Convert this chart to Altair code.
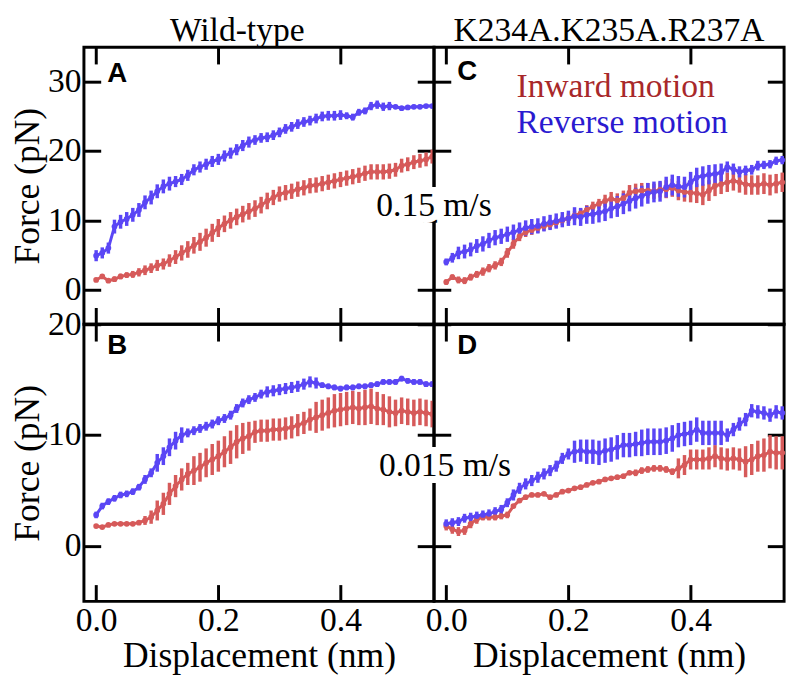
import altair as alt
import pandas as pd

DISP = [0.00, 0.01, 0.02, 0.03, 0.04, 0.05, 0.06, 0.07, 0.08, 0.09,
        0.10, 0.11, 0.12, 0.13, 0.14, 0.15, 0.16, 0.17, 0.18, 0.19,
        0.20, 0.21, 0.22, 0.23, 0.24, 0.25, 0.26, 0.27, 0.28, 0.29,
        0.30, 0.31, 0.32, 0.33, 0.34, 0.35, 0.36, 0.37, 0.38, 0.39,
        0.40, 0.41, 0.42, 0.43, 0.44, 0.45, 0.46, 0.47, 0.48, 0.49,
        0.50, 0.51, 0.52, 0.53, 0.54, 0.55]

# Panel A: wild-type, 0.15 m/s
A_INW = [1.4, 1.9, 1.3, 1.5, 1.9, 2.1, 2.2, 2.5, 2.8, 3.1,
         3.5, 3.7, 4.2, 4.7, 5.3, 5.8, 6.4, 6.9, 7.5, 8.2,
         8.9, 9.5, 10.0, 10.5, 10.9, 11.3, 11.7, 12.2, 12.8, 13.3,
         13.8, 14.0, 14.2, 14.5, 14.7, 15.0, 15.1, 15.3, 15.5, 15.7,
         15.9, 16.1, 16.3, 16.5, 16.8, 17.0, 17.0, 17.0, 17.1, 17.3,
         17.9, 18.1, 18.4, 18.6, 18.8, 19.2]
A_INW_ERR = [0.3, 0.3, 0.3, 0.4, 0.4, 0.4, 0.5, 0.6, 0.7, 0.7,
             0.8, 0.8, 0.9, 1.0, 1.1, 1.2, 1.2, 1.3, 1.3, 1.3,
             1.3, 1.2, 1.2, 1.2, 1.2, 1.2, 1.2, 1.2, 1.2, 1.1,
             1.1, 1.1, 1.1, 1.1, 1.1, 1.1, 1.1, 1.1, 1.1, 1.1,
             1.1, 1.1, 1.1, 1.1, 1.1, 1.1, 1.1, 1.1, 1.1, 1.0,
             1.0, 1.0, 1.0, 1.0, 1.0, 1.0]
A_REV = [4.9, 5.3, 6.0, 9.1, 9.8, 10.2, 10.8, 11.5, 12.6, 13.3,
         14.2, 14.9, 15.3, 15.6, 15.9, 16.5, 17.3, 17.7, 18.1, 18.5,
         18.8, 19.3, 19.7, 20.2, 20.8, 21.3, 21.6, 21.9, 22.0, 22.3,
         22.7, 23.2, 23.5, 23.9, 24.2, 24.4, 24.7, 25.0, 25.1, 25.1,
         25.2, 25.1, 24.9, 25.6, 25.8, 26.5, 26.7, 26.4, 26.5, 26.4,
         26.2, 26.3, 26.4, 26.4, 26.5, 26.5]
A_REV_ERR = [0.8, 0.8, 0.8, 1.0, 1.0, 1.0, 1.0, 1.0, 1.0, 1.0,
             1.0, 1.0, 1.0, 0.8, 0.8, 0.8, 0.8, 0.8, 0.8, 0.8,
             0.8, 0.8, 0.8, 0.8, 0.8, 0.8, 0.7, 0.7, 0.7, 0.7,
             0.7, 0.7, 0.7, 0.7, 0.7, 0.7, 0.7, 0.7, 0.7, 0.7,
             0.7, 0.5, 0.5, 0.5, 0.5, 0.6, 0.6, 0.6, 0.6, 0.3,
             0.3, 0.3, 0.3, 0.3, 0.3, 0.3]

# Panel B: wild-type, 0.015 m/s
B_INW = [1.8, 1.7, 1.9, 2.0, 2.0, 2.0, 2.0, 2.1, 2.3, 2.6,
         3.2, 3.8, 4.7, 5.4, 6.0, 6.5, 6.8, 7.1, 7.5, 7.8,
         8.1, 8.5, 8.9, 9.4, 9.7, 9.9, 10.3, 10.4, 10.4, 10.5,
         10.5, 10.6, 10.7, 10.9, 11.1, 11.4, 11.6, 11.8, 12.0, 12.2,
         12.3, 12.4, 12.5, 12.4, 12.5, 12.6, 12.4, 12.3, 12.1, 12.0,
         12.2, 12.1, 12.0, 12.1, 12.0, 11.9]
B_INW_ERR = [0.15, 0.15, 0.15, 0.15, 0.15, 0.15, 0.15, 0.15, 0.4, 0.6,
             0.9, 1.0, 1.0, 1.0, 1.0, 1.0, 1.3, 1.3, 1.3, 1.4,
             1.4, 1.4, 1.5, 1.5, 1.4, 1.3, 1.0, 1.0, 1.0, 1.0,
             1.0, 1.0, 1.0, 1.0, 1.0, 1.0, 1.4, 1.4, 1.4, 1.5,
             1.5, 1.5, 1.5, 1.5, 1.6, 1.6, 1.5, 1.4, 1.4, 1.2,
             1.2, 1.2, 1.2, 1.2, 1.2, 1.2]
B_REV = [2.8, 3.6, 4.0, 4.3, 4.6, 4.7, 4.9, 5.3, 6.0, 6.6,
         7.5, 8.1, 8.9, 9.5, 10.0, 10.2, 10.4, 10.6, 10.8, 11.0,
         11.3, 11.5, 11.8, 12.4, 12.9, 13.2, 13.4, 13.7, 13.9, 14.0,
         14.1, 14.2, 14.3, 14.4, 14.6, 14.8, 14.7, 14.5, 14.4, 14.3,
         14.2, 14.3, 14.3, 14.4, 14.4, 14.5, 14.6, 14.8, 14.8, 14.8,
         15.1, 14.9, 14.8, 14.8, 14.6, 14.6]
B_REV_ERR = [0.3, 0.3, 0.3, 0.3, 0.3, 0.3, 0.3, 0.3, 0.4, 0.4,
             0.8, 0.8, 0.8, 0.8, 0.7, 0.4, 0.4, 0.4, 0.4, 0.4,
             0.4, 0.4, 0.4, 0.4, 0.4, 0.4, 0.4, 0.4, 0.5, 0.5,
             0.5, 0.5, 0.5, 0.5, 0.5, 0.5, 0.5, 0.25, 0.25, 0.25,
             0.25, 0.25, 0.25, 0.25, 0.25, 0.25, 0.25, 0.25, 0.25, 0.25,
             0.25, 0.25, 0.25, 0.25, 0.25, 0.25]

# Panel C: K234A.K235A.R237A, 0.15 m/s
C_INW = [1.1, 1.8, 1.4, 1.3, 1.8, 2.2, 2.6, 3.1, 3.5, 4.0,
         5.3, 6.6, 7.7, 8.3, 8.6, 8.9, 9.2, 9.4, 9.7, 10.0,
         10.3, 10.7, 11.0, 11.5, 12.0, 12.4, 12.8, 13.1, 12.9, 13.2,
         14.0, 14.2, 14.3, 14.3, 14.2, 14.4, 14.5, 14.7, 14.3, 14.1,
         14.0, 13.9, 13.7, 14.3, 15.0, 15.2, 15.5, 15.7, 15.5, 15.2,
         15.1, 15.1, 15.3, 15.1, 15.3, 15.5]
C_INW_ERR = [0.4, 0.4, 0.5, 0.5, 0.5, 0.5, 0.6, 0.6, 0.6, 0.6,
             0.7, 0.7, 0.7, 0.7, 0.7, 0.7, 0.7, 0.7, 0.7, 0.7,
             0.7, 0.7, 0.7, 0.7, 0.7, 0.7, 0.9, 1.0, 1.0, 1.1,
             1.1, 1.1, 1.1, 1.1, 1.1, 1.1, 1.3, 1.3, 1.4, 1.4,
             1.4, 1.4, 1.5, 1.5, 1.5, 1.4, 1.4, 1.4, 1.5, 1.5,
             1.4, 1.4, 1.5, 1.5, 1.4, 1.4]
C_REV = [4.0, 4.6, 5.3, 5.5, 5.8, 6.3, 6.6, 7.1, 7.5, 7.7,
         8.0, 8.3, 8.6, 8.9, 9.1, 9.2, 9.5, 9.7, 9.9, 10.1,
         10.3, 10.6, 10.5, 10.8, 10.9, 11.1, 11.3, 11.7, 12.0, 12.4,
         12.8, 13.2, 13.5, 13.9, 14.1, 14.2, 14.8, 15.1, 14.9, 14.8,
         15.5, 16.2, 16.4, 16.6, 16.7, 16.9, 17.7, 17.4, 17.0, 17.2,
         17.3, 17.9, 18.0, 18.1, 18.6, 18.7]
C_REV_ERR = [0.5, 0.7, 0.9, 1.0, 1.0, 1.0, 1.1, 1.1, 1.1, 1.1,
             1.1, 1.1, 1.1, 1.1, 1.1, 1.1, 1.1, 1.1, 1.1, 1.1,
             1.1, 1.3, 1.3, 1.3, 1.4, 1.4, 1.4, 1.4, 1.5, 1.5,
             1.5, 1.5, 1.5, 1.5, 1.5, 1.5, 1.5, 1.5, 1.5, 1.5,
             1.5, 1.4, 1.4, 1.4, 1.4, 1.3, 0.8, 0.8, 0.8, 0.7,
             0.7, 0.7, 0.6, 0.6, 0.6, 0.6]

# Panel D: K234A.K235A.R237A, 0.015 m/s
D_INW = [1.8, 1.5, 1.3, 1.4, 2.0, 2.4, 2.6, 2.6, 2.6, 2.7,
         2.8, 3.6, 4.1, 4.4, 4.6, 4.6, 4.7, 4.4, 4.6, 4.9,
         5.0, 5.2, 5.3, 5.5, 5.7, 5.8, 6.0, 6.1, 6.2, 6.3,
         6.6, 6.6, 6.8, 6.9, 7.0, 7.0, 6.9, 6.7, 7.0, 7.3,
         7.8, 7.8, 7.8, 7.9, 8.1, 7.9, 7.8, 7.9, 7.8, 7.6,
         7.8, 8.1, 8.2, 8.5, 8.4, 8.4]
D_INW_ERR = [0.4, 0.4, 0.4, 0.4, 0.4, 0.4, 0.3, 0.3, 0.3, 0.3,
             0.3, 0.15, 0.15, 0.15, 0.15, 0.15, 0.15, 0.15, 0.15, 0.15,
             0.15, 0.15, 0.15, 0.15, 0.15, 0.15, 0.15, 0.15, 0.15, 0.15,
             0.15, 0.3, 0.3, 0.3, 0.3, 0.3, 0.3, 0.3, 0.9, 0.9,
             0.9, 0.9, 0.9, 1.0, 1.0, 1.0, 1.0, 1.0, 1.0, 1.4,
             1.4, 1.4, 1.5, 1.5, 1.5, 1.5]
D_REV = [2.0, 2.1, 2.2, 2.5, 2.6, 2.7, 2.8, 2.9, 3.1, 3.3,
         3.9, 4.6, 5.2, 5.6, 5.9, 6.2, 6.5, 6.8, 7.2, 7.9,
         8.3, 8.5, 8.6, 8.5, 8.5, 8.4, 8.6, 8.7, 8.9, 9.1,
         9.1, 9.2, 9.3, 9.4, 9.4, 9.4, 9.5, 9.7, 10.0, 10.1,
         10.2, 10.5, 10.2, 10.2, 10.2, 10.2, 10.0, 10.5, 11.0, 11.4,
         12.2, 12.1, 12.0, 11.8, 12.1, 12.0]
D_REV_ERR = [0.4, 0.4, 0.4, 0.4, 0.4, 0.4, 0.4, 0.4, 0.4, 0.4,
             0.4, 0.5, 0.5, 0.5, 0.5, 0.5, 0.5, 0.5, 0.5, 0.5,
             0.5, 1.0, 1.0, 1.1, 1.1, 1.1, 1.1, 1.1, 1.1, 1.1,
             1.1, 1.1, 1.2, 1.2, 1.2, 1.2, 1.2, 1.2, 1.1, 1.1,
             1.1, 1.1, 1.1, 1.1, 1.1, 1.1, 0.6, 0.6, 0.6, 0.6,
             0.6, 0.6, 0.6, 0.6, 0.6, 0.6]

SERIES = ["Inward motion", "Reverse motion"]
COLORS = ["#d65a5a", "#5a46f5"]
LEGEND_COLORS = ["#a8282a", "#2a1ad0"]
COL_TITLES = ["Wild-type", "K234A.K235A.R237A"]
SPEEDS = ["0.15 m/s", "0.015 m/s"]
LETTERS = ["A", "B", "C", "D"]

X_DOMAIN = [-0.02, 0.553]
TOP_DOMAIN = [-5, 35]
BOT_DOMAIN = [-5, 20]
X_TICKS = [0.0, 0.2, 0.4]
TOP_TICKS = [0, 10, 20, 30]
BOT_TICKS = [0, 10, 20]

SERIF = "Times New Roman, Liberation Serif, Times, serif"
SANS = "Liberation Sans, Arial, sans-serif"
TICK = 17
W = 355
H = 281


def frame(inw, inw_err, rev, rev_err):
    rows = []
    for name, ys, es in ((SERIES[0], inw, inw_err), (SERIES[1], rev, rev_err)):
        for x, y, e in zip(DISP, ys, es):
            rows.append({"x": x, "y": y, "lo": y - e, "hi": y + e, "series": name})
    return pd.DataFrame(rows)


def ax(orient, values, labels, fmt):
    return alt.Axis(orient=orient, values=values, labels=labels, format=fmt,
                    domain=False, grid=False, ticks=True, tickSize=TICK,
                    tickWidth=3, tickColor="black", offset=-TICK,
                    labelFont=SERIF, labelFontSize=34, labelColor="black",
                    labelPadding=3, labelFlush=False, labelOverlap=False,
                    titleFont=SERIF, titleFontSize=36, titleColor="black",
                    titleFontWeight="normal", titlePadding=1)


def panel(df, ydom, yticks, left_labels, bottom_labels, letter, letter_y,
          title_text=None, title_dx=0, extras=()):
    xs = alt.Scale(domain=X_DOMAIN, nice=False, zero=False)
    ys = alt.Scale(domain=ydom, nice=False, zero=False)
    col = alt.Color("series:N", scale=alt.Scale(domain=SERIES, range=COLORS), legend=None)
    base = alt.Chart(df)
    err = base.mark_rule(strokeWidth=3.5).encode(
        x=alt.X("x:Q", scale=xs, axis=ax("bottom", X_TICKS, bottom_labels, ".1f"),
                title="Displacement (nm)" if bottom_labels else None),
        y=alt.Y("lo:Q", scale=ys, axis=ax("left", yticks, left_labels, "d"),
                title="Force (pN)" if left_labels else None),
        y2="hi:Q",
        color=col,
    )
    line = base.mark_line(strokeWidth=3).encode(
        x=alt.X("x:Q", scale=xs, axis=None),
        y=alt.Y("y:Q", scale=ys, axis=None),
        color=col,
    )
    pts = base.mark_circle(size=34, opacity=1).encode(
        x=alt.X("x:Q", scale=xs, axis=ax("top", X_TICKS, False, ".1f"), title=None),
        y=alt.Y("y:Q", scale=ys, axis=ax("right", yticks, False, "d"), title=None),
        color=col,
    )
    let = alt.Chart(pd.DataFrame({"x": [0.018], "y": [letter_y], "t": [letter]})).mark_text(
        font=SANS, fontWeight="bold", fontSize=28, align="left", baseline="alphabetic",
        color="black").encode(
        x=alt.X("x:Q", scale=xs, axis=None),
        y=alt.Y("y:Q", scale=ys, axis=None),
        text="t:N",
    )
    layers = [err, line, pts, let]
    for ex in extras:
        layers.append(ex(xs, ys))
    ch = alt.layer(*layers).resolve_scale(x="independent", y="independent")
    props = dict(width=W, height=H)
    if title_text:
        props["title"] = alt.TitleParams(title_text, font=SERIF, fontSize=34,
                                         fontWeight="normal", color="black",
                                         frame="group", anchor="middle",
                                         dx=title_dx, offset=-2)
    return ch.properties(**props)


def legend_layer(xs, ys):
    parts = []
    for name, yv, c in ((SERIES[0], 27.75, LEGEND_COLORS[0]), (SERIES[1], 22.6, LEGEND_COLORS[1])):
        d = pd.DataFrame({"x": [0.115], "y": [yv], "t": [name]})
        parts.append(alt.Chart(d).mark_text(font=SERIF, fontSize=34, align="left",
                                            baseline="alphabetic", color=c).encode(
            x=alt.X("x:Q", scale=xs, axis=None),
            y=alt.Y("y:Q", scale=ys, axis=None),
            text="t:N",
        ))
    return alt.layer(*parts)


def speed_layer(text, xv, yv):
    def make(xs, ys):
        d = pd.DataFrame({"x": [xv], "y": [yv], "t": [text]})
        enc = dict(x=alt.X("x:Q", scale=xs, axis=None),
                   y=alt.Y("y:Q", scale=ys, axis=None), text="t:N")
        halo = alt.Chart(d).mark_text(font=SERIF, fontSize=34, align="center",
                                      baseline="alphabetic", fill="white",
                                      stroke="white", strokeWidth=14).encode(**enc)
        txt = alt.Chart(d).mark_text(font=SERIF, fontSize=34, align="center",
                                     baseline="alphabetic", color="black").encode(**enc)
        return alt.layer(halo, txt)
    return make


pA = panel(frame(A_INW, A_INW_ERR, A_REV, A_REV_ERR), TOP_DOMAIN, TOP_TICKS,
           True, False, LETTERS[0], 30.0, COL_TITLES[0], -22)
pC = panel(frame(C_INW, C_INW_ERR, C_REV, C_REV_ERR), TOP_DOMAIN, TOP_TICKS,
           False, False, LETTERS[2], 30.2, COL_TITLES[1], 0,
           extras=(legend_layer, speed_layer(SPEEDS[0], -0.02, 10.7)))
pB = panel(frame(B_INW, B_INW_ERR, B_REV, B_REV_ERR), BOT_DOMAIN, BOT_TICKS,
           True, True, LETTERS[1], 17.3)
pD = panel(frame(D_INW, D_INW_ERR, D_REV, D_REV_ERR), BOT_DOMAIN, BOT_TICKS,
           False, True, LETTERS[3], 17.3,
           extras=(speed_layer(SPEEDS[1], -0.002, 6.3),))

chart = alt.concat(pA, pC, pB, pD, columns=2, spacing=0, bounds="flush").properties(
    padding=0
).configure_view(
    stroke="black", strokeWidth=3
).configure_axis(
    titleFont=SERIF, titleFontSize=36, titleFontWeight="normal", titleColor="black",
    labelFont=SERIF, labelFontSize=34, labelColor="black"
).configure_title(
    font=SERIF, fontSize=34, fontWeight="normal", color="black"
)

chart.save("out.html", embed_options={"renderer": "svg", "actions": False})
